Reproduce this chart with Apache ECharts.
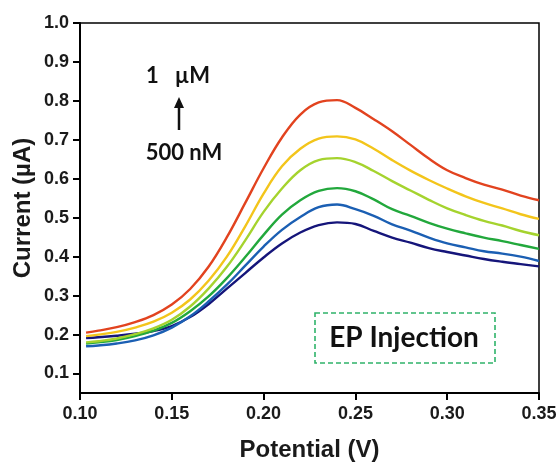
<!DOCTYPE html>
<html>
<head>
<meta charset="utf-8">
<script src="https://cdn.jsdelivr.net/npm/echarts@6/dist/echarts.min.js"></script>
<style>
  html, body { margin: 0; padding: 0; background: #fff; }
  #chart { width: 560px; height: 463px; }
</style>
</head>
<body>
<div id="chart"></div>
<script>
// Potential sweep (V)
const potentials = [0.1033, 0.11, 0.12, 0.13, 0.14, 0.15, 0.16, 0.17, 0.18, 0.19, 0.20, 0.21, 0.22,
  0.23, 0.24, 0.25, 0.26, 0.27, 0.28, 0.29, 0.30, 0.31, 0.32, 0.33, 0.34, 0.35];

// Current (µA) for each EP concentration, lowest (500 nM) to highest (1 µM)
const current1 = [0.191, 0.193, 0.197, 0.202, 0.209, 0.222, 0.245, 0.278, 0.318, 0.358, 0.398, 0.434, 0.462,
  0.481, 0.488, 0.484, 0.466, 0.449, 0.436, 0.422, 0.412, 0.403, 0.394, 0.387, 0.381, 0.375];
const current2 = [0.170, 0.172, 0.177, 0.185, 0.198, 0.218, 0.247, 0.285, 0.328, 0.377, 0.426, 0.469, 0.502,
  0.527, 0.534, 0.522, 0.505, 0.483, 0.467, 0.449, 0.434, 0.424, 0.414, 0.408, 0.400, 0.389];
const current3 = [0.177, 0.180, 0.186, 0.196, 0.210, 0.230, 0.260, 0.298, 0.345, 0.399, 0.456, 0.508, 0.545,
  0.569, 0.576, 0.568, 0.547, 0.522, 0.505, 0.487, 0.472, 0.460, 0.449, 0.440, 0.430, 0.420];
const current4 = [0.180, 0.183, 0.190, 0.201, 0.216, 0.238, 0.272, 0.318, 0.374, 0.442, 0.515, 0.575, 0.622,
  0.648, 0.653, 0.643, 0.620, 0.594, 0.570, 0.546, 0.524, 0.507, 0.492, 0.480, 0.466, 0.455];
const current5 = [0.196, 0.200, 0.207, 0.218, 0.233, 0.256, 0.290, 0.338, 0.400, 0.478, 0.562, 0.632, 0.677,
  0.703, 0.709, 0.701, 0.677, 0.648, 0.621, 0.597, 0.575, 0.555, 0.538, 0.524, 0.509, 0.497];
const current6 = [0.205, 0.210, 0.219, 0.232, 0.250, 0.277, 0.317, 0.374, 0.450, 0.538, 0.627, 0.706, 0.765,
  0.796, 0.802, 0.782, 0.753, 0.722, 0.687, 0.652, 0.622, 0.602, 0.585, 0.572, 0.557, 0.545];

const xTicks = [0.10, 0.15, 0.20, 0.25, 0.30, 0.35];
const yTicks = [0.1, 0.2, 0.3, 0.4, 0.5, 0.6, 0.7, 0.8, 0.9, 1.0];

const curves = [current1, current2, current3, current4, current5, current6];
const colors = ['#15157a', '#1b5fb3', '#22a83c', '#a5d32e', '#f3c51b', '#e2431f'];

const chart = echarts.init(document.getElementById('chart'));

const tickFont = { fontFamily: 'Liberation Sans', fontWeight: 'bold', fontSize: 18, color: '#1a1a1a' };
const titleFont = { fontFamily: 'Liberation Sans', fontWeight: 'bold', fontSize: 24, color: '#1a1a1a' };
const noteFont = 'bold 22px Lato';

const series = curves.map((vals, i) => ({
  type: 'line',
  name: 'c' + (i + 1),
  data: potentials.map((p, k) => [p, vals[k]]),
  showSymbol: false,
  smooth: 0.4,
  lineStyle: { color: colors[i], width: 2.4 },
  z: 2 + i
}));

chart.setOption({
  animation: false,
  backgroundColor: '#fff',
  grid: {
    left: 80, right: 21, top: 23, bottom: 70,
    outerBoundsMode: 'none', containLabel: false,
    show: true, borderColor: '#000', borderWidth: 1.5
  },
  xAxis: {
    type: 'value', min: 0.10, max: 0.35, interval: 0.05,
    name: 'Potential (V)', nameLocation: 'middle', nameGap: 45, nameMoveOverlap: false,
    nameTextStyle: titleFont,
    axisLine: { lineStyle: { color: '#000', width: 2 } },
    axisTick: { show: true, length: 7, inside: false, lineStyle: { color: '#000', width: 2 } },
    axisLabel: Object.assign({ margin: 12, formatter: v => v.toFixed(2), customValues: xTicks }, tickFont),
    splitLine: { show: false }
  },
  yAxis: {
    type: 'value', min: 0.05, max: 1.0,
    name: 'Current (µA)', nameLocation: 'middle', nameGap: 45, nameRotate: 90, nameMoveOverlap: false,
    nameTextStyle: titleFont,
    axisLine: { lineStyle: { color: '#000', width: 2 } },
    axisTick: { show: true, length: 7, inside: false, customValues: yTicks, lineStyle: { color: '#000', width: 2 } },
    axisLabel: Object.assign({ margin: 11, formatter: v => v.toFixed(1), customValues: yTicks }, tickFont),
    splitLine: { show: false }
  },
  series: series,
  graphic: [
    { type: 'text', x: 178, y: 76, style: { text: '1   µM', font: noteFont, fill: '#111', align: 'center', verticalAlign: 'middle' } },
    { type: 'line', shape: { x1: 179, y1: 130, x2: 179, y2: 106 }, style: { stroke: '#111', lineWidth: 2.5 } },
    { type: 'polygon', shape: { points: [[179, 97], [174, 108], [184, 108]] }, style: { fill: '#111' } },
    { type: 'text', x: 184, y: 153, style: { text: '500 nM', font: noteFont, fill: '#111', align: 'center', verticalAlign: 'middle' } },
    { type: 'rect', shape: { x: 315, y: 313, width: 180, height: 50 },
      style: { fill: 'none', stroke: '#2fb36a', lineWidth: 1.6, lineDash: [5, 3] } },
    { type: 'text', x: 404, y: 338, style: { text: 'EP Injection', font: 'bold 28px Lato', fill: '#111', align: 'center', verticalAlign: 'middle' } }
  ]
});
</script>
</body>
</html>
